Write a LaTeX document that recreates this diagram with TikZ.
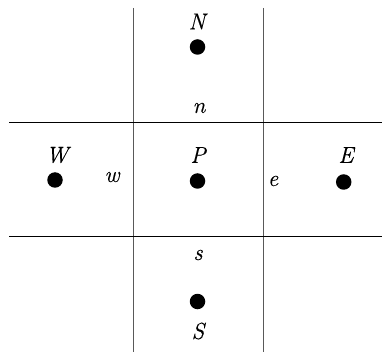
\documentclass[tikz,border=0pt]{standalone}
\usepackage{fontspec}
\newfontfamily\lblfont{Latin Modern Roman}[ItalicFeatures={FakeBold=0.3}]
\begin{document}
\begin{tikzpicture}[x=1pt,y=-1pt,
  pt/.style={circle,fill=black,inner sep=0pt,minimum size=15.5pt},
  lbl/.style={inner sep=0pt,font=\lblfont\fontsize{23}{26}\selectfont\itshape},
  vline/.style={draw=black!65,line width=1.2pt},
  hline/.style={draw=black,line width=1.2pt}]
\useasboundingbox (0,0) rectangle (382,352);
% grid lines
\coordinate (v1t) at (133.5,8);
\coordinate (v1b) at (133.5,352);
\coordinate (v2t) at (263.5,8);
\coordinate (v2b) at (263.5,352);
\coordinate (h1l) at (9,122.3);
\coordinate (h1r) at (382,122.3);
\coordinate (h2l) at (9,236.7);
\coordinate (h2r) at (382,236.7);
\draw[vline] (v1t) -- (v1b);
\draw[vline] (v2t) -- (v2b);
\draw[hline] (h1l) -- (h1r);
\draw[hline] (h2l) -- (h2r);
% points
\node[pt] (Np) at (197.5,47) {};
\node[pt] (Wp) at (55,180) {};
\node[pt] (Pp) at (197.5,181) {};
\node[pt] (Ep) at (343.7,182) {};
\node[pt] (Sp) at (197.5,301.5) {};
% labels
\node[lbl] (Nl) at (197,21.5) {N};
\node[lbl] (nl) at (199,108) {n};
\node[lbl] (Wl) at (57,155) {W};
\node[lbl] (wl) at (112,177) {w};
\node[lbl] (Pl) at (198,155) {P};
\node[lbl] (el) at (273,181) {e};
\node[lbl] (El) at (346,155) {E};
\node[lbl] (sl) at (198,255) {s};
\node[lbl] (Sl) at (198,331) {S};
\end{tikzpicture}
\end{document}
